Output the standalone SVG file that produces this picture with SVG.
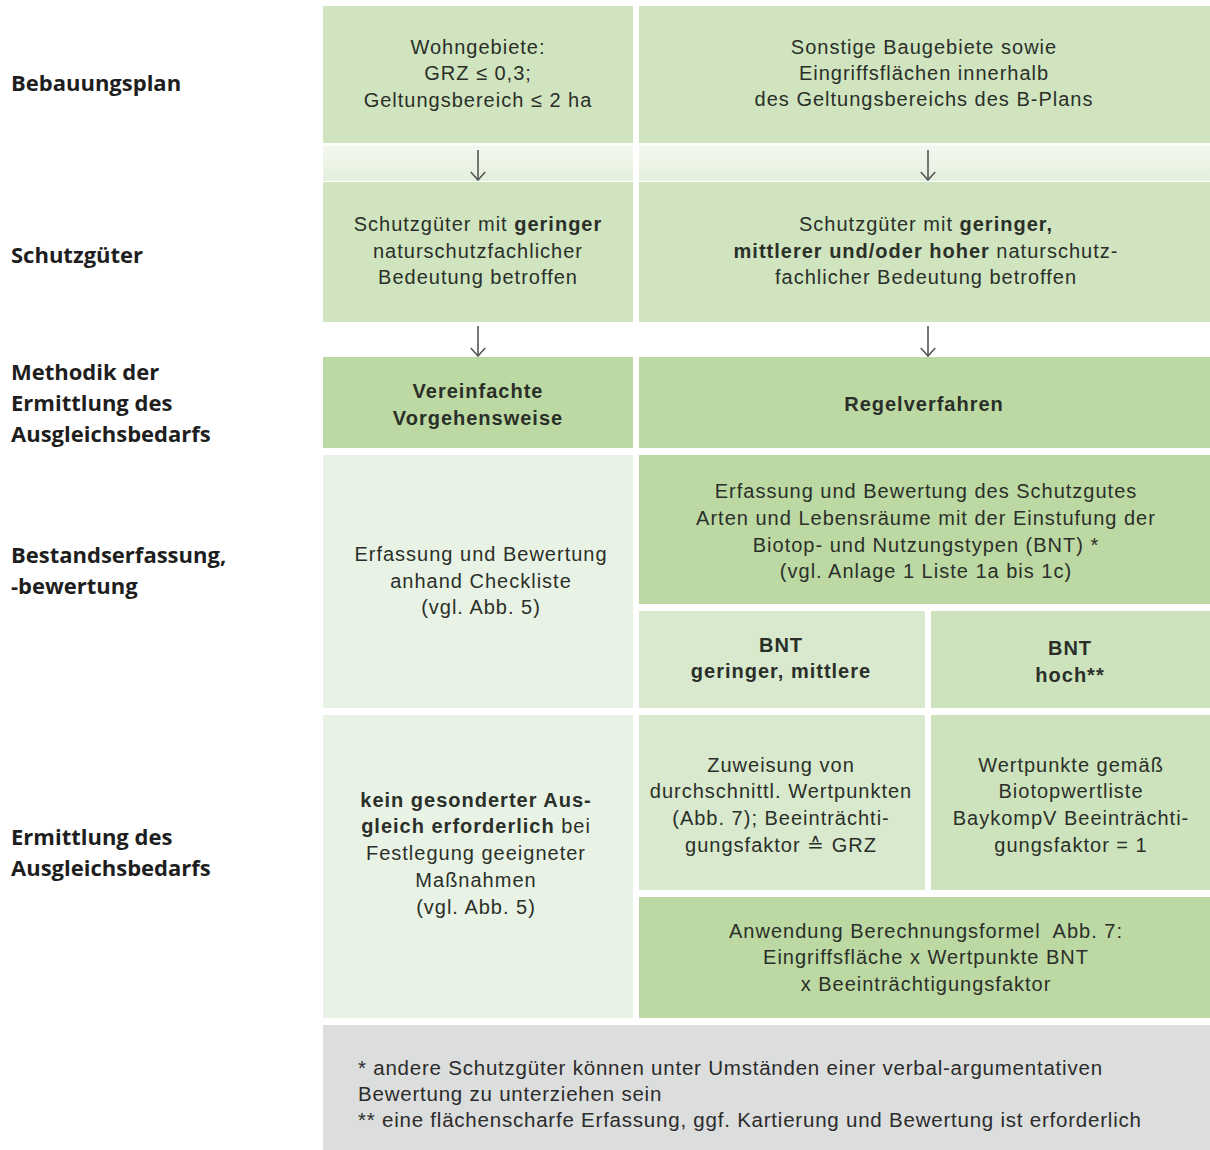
<svg xmlns="http://www.w3.org/2000/svg" width="1210" height="1150" viewBox="0 0 1210 1150">
<defs>
<style>
.t{font-family:"Liberation Sans",Arial,sans-serif;font-size:20px;fill:#2b2f29;text-anchor:middle;letter-spacing:1px}
.b{font-weight:bold}
.lab{font-family:"Open Sans",Lato,sans-serif;font-size:22px;font-weight:bold;fill:#1e1e1e}
.ft{font-family:"Liberation Sans",Arial,sans-serif;font-size:20.5px;fill:#2b2b2b;letter-spacing:0.78px}
.c1{fill:#cfe4bf}
.c2{fill:#bcd9a3}
.c3{fill:#e9f3e5}
.c4{fill:#d8e9cd}
.c5{fill:#cde3bd}
.arr{stroke:#555;stroke-width:1.6;fill:none}
</style>
<linearGradient id="band" x1="0" y1="0" x2="0" y2="1">
<stop offset="0" stop-color="#f4f8f0"/>
<stop offset="1" stop-color="#e4efdc"/>
</linearGradient>
<marker id="ah" viewBox="0 0 12 16" refX="11" refY="8" markerWidth="12" markerHeight="16" markerUnits="userSpaceOnUse" orient="auto">
<path d="M3 0.8 L11 8 L3 15.2" stroke="#555" stroke-width="1.6" fill="none"/>
</marker>
</defs>
<rect width="1210" height="1150" fill="#ffffff"/>

<g id="labels">
<text class="lab" x="11" y="91">Bebauungsplan</text>
<text class="lab" x="11" y="263">Schutzgüter</text>
<text class="lab" x="11" y="380">Methodik der</text>
<text class="lab" x="11" y="411">Ermittlung des</text>
<text class="lab" x="11" y="442">Ausgleichsbedarfs</text>
<text class="lab" x="11" y="563">Bestandserfassung,</text>
<text class="lab" x="11" y="594">-bewertung</text>
<text class="lab" x="11" y="845">Ermittlung des</text>
<text class="lab" x="11" y="876">Ausgleichsbedarfs</text>
</g>

<g id="bands">
<rect x="323" y="145" width="310" height="36" fill="url(#band)"/>
<rect x="639" y="145" width="571" height="36" fill="url(#band)"/>
</g>

<g id="n-wohngebiete">
<rect class="c1" x="323" y="6" width="310" height="137"/>
<text class="t" x="478" y="54">Wohngebiete:</text>
<text class="t" x="478" y="80">GRZ ≤ 0,3;</text>
<text class="t" x="478" y="107">Geltungsbereich ≤ 2 ha</text>
</g>
<g id="n-sonstige">
<rect class="c1" x="639" y="6" width="571" height="137"/>
<text class="t" x="924" y="54">Sonstige Baugebiete sowie</text>
<text class="t" x="924" y="80">Eingriffsflächen innerhalb</text>
<text class="t" x="924" y="106">des Geltungsbereichs des B-Plans</text>
</g>
<g id="n-schutz-gering">
<rect class="c1" x="323" y="182" width="310" height="140"/>
<text class="t" x="478" y="231">Schutzgüter mit <tspan class="b">geringer</tspan></text>
<text class="t" x="478" y="258">naturschutzfachlicher</text>
<text class="t" x="478" y="284">Bedeutung betroffen</text>
</g>
<g id="n-schutz-alle">
<rect class="c1" x="639" y="182" width="571" height="140"/>
<text class="t" x="926" y="231">Schutzgüter mit <tspan class="b">geringer,</tspan></text>
<text class="t" x="926" y="258"><tspan class="b">mittlerer und/oder hoher</tspan> naturschutz-</text>
<text class="t" x="926" y="284">fachlicher Bedeutung betroffen</text>
</g>
<g id="n-vereinfacht">
<rect class="c2" x="323" y="357" width="310" height="91"/>
<text class="t b" x="478" y="398">Vereinfachte</text>
<text class="t b" x="478" y="425">Vorgehensweise</text>
</g>
<g id="n-regel">
<rect class="c2" x="639" y="357" width="571" height="91"/>
<text class="t b" x="924" y="411">Regelverfahren</text>
</g>
<g id="n-checkliste">
<rect class="c3" x="323" y="455" width="310" height="253"/>
<text class="t" x="481" y="561">Erfassung und Bewertung</text>
<text class="t" x="481" y="588">anhand Checkliste</text>
<text class="t" x="481" y="614">(vgl. Abb. 5)</text>
</g>
<g id="n-erfassung">
<rect class="c2" x="639" y="455" width="571" height="149"/>
<text class="t" x="926" y="498">Erfassung und Bewertung des Schutzgutes</text>
<text class="t" x="926" y="525">Arten und Lebensräume mit der Einstufung der</text>
<text class="t" x="926" y="552">Biotop- und Nutzungstypen (BNT) *</text>
<text class="t" x="926" y="578">(vgl. Anlage 1 Liste 1a bis 1c)</text>
</g>
<g id="n-bnt-gering">
<rect class="c4" x="639" y="611" width="286" height="97"/>
<text class="t b" x="781" y="652">BNT</text>
<text class="t b" x="781" y="678">geringer, mittlere</text>
</g>
<g id="n-bnt-hoch">
<rect class="c5" x="931" y="611" width="279" height="97"/>
<text class="t b" x="1070" y="655">BNT</text>
<text class="t b" x="1070" y="682">hoch**</text>
</g>
<g id="n-kein-ausgleich">
<rect class="c3" x="323" y="715" width="310" height="303"/>
<text class="t b" x="476" y="807">kein gesonderter Aus-</text>
<text class="t" x="476" y="833"><tspan class="b">gleich erforderlich</tspan> bei</text>
<text class="t" x="476" y="860">Festlegung geeigneter</text>
<text class="t" x="476" y="887">Maßnahmen</text>
<text class="t" x="476" y="914">(vgl. Abb. 5)</text>
</g>
<g id="n-zuweisung">
<rect class="c4" x="639" y="715" width="286" height="175"/>
<text class="t" x="781" y="772">Zuweisung von</text>
<text class="t" x="781" y="798">durchschnittl. Wertpunkten</text>
<text class="t" x="781" y="825">(Abb. 7); Beeinträchti-</text>
<text class="t" x="781" y="852">gungsfaktor ≙ GRZ</text>
</g>
<g id="n-wertpunkte">
<rect class="c5" x="931" y="715" width="279" height="175"/>
<text class="t" x="1071" y="772">Wertpunkte gemäß</text>
<text class="t" x="1071" y="798">Biotopwertliste</text>
<text class="t" x="1071" y="825">BaykompV Beeinträchti-</text>
<text class="t" x="1071" y="852">gungsfaktor = 1</text>
</g>
<g id="n-anwendung">
<rect class="c2" x="639" y="897" width="571" height="121"/>
<text class="t" x="926" y="938" xml:space="preserve">Anwendung Berechnungsformel  Abb. 7:</text>
<text class="t" x="926" y="964">Eingriffsfläche x Wertpunkte BNT</text>
<text class="t" x="926" y="991">x Beeinträchtigungsfaktor</text>
</g>
<g id="n-fussnoten">
<rect x="323" y="1025" width="887" height="125" fill="#dcdddd"/>
<text class="ft" x="358" y="1075">* andere Schutzgüter können unter Umständen einer verbal-argumentativen</text>
<text class="ft" x="358" y="1101">Bewertung zu unterziehen sein</text>
<text class="ft" x="358" y="1127">** eine flächenscharfe Erfassung, ggf. Kartierung und Bewertung ist erforderlich</text>
</g>

<g id="connectors">
<path class="arr" d="M478 150 V180" marker-end="url(#ah)"/>
<path class="arr" d="M928 150 V180" marker-end="url(#ah)"/>
<path class="arr" d="M478 326 V356" marker-end="url(#ah)"/>
<path class="arr" d="M928 326 V356" marker-end="url(#ah)"/>
</g>
</svg>
